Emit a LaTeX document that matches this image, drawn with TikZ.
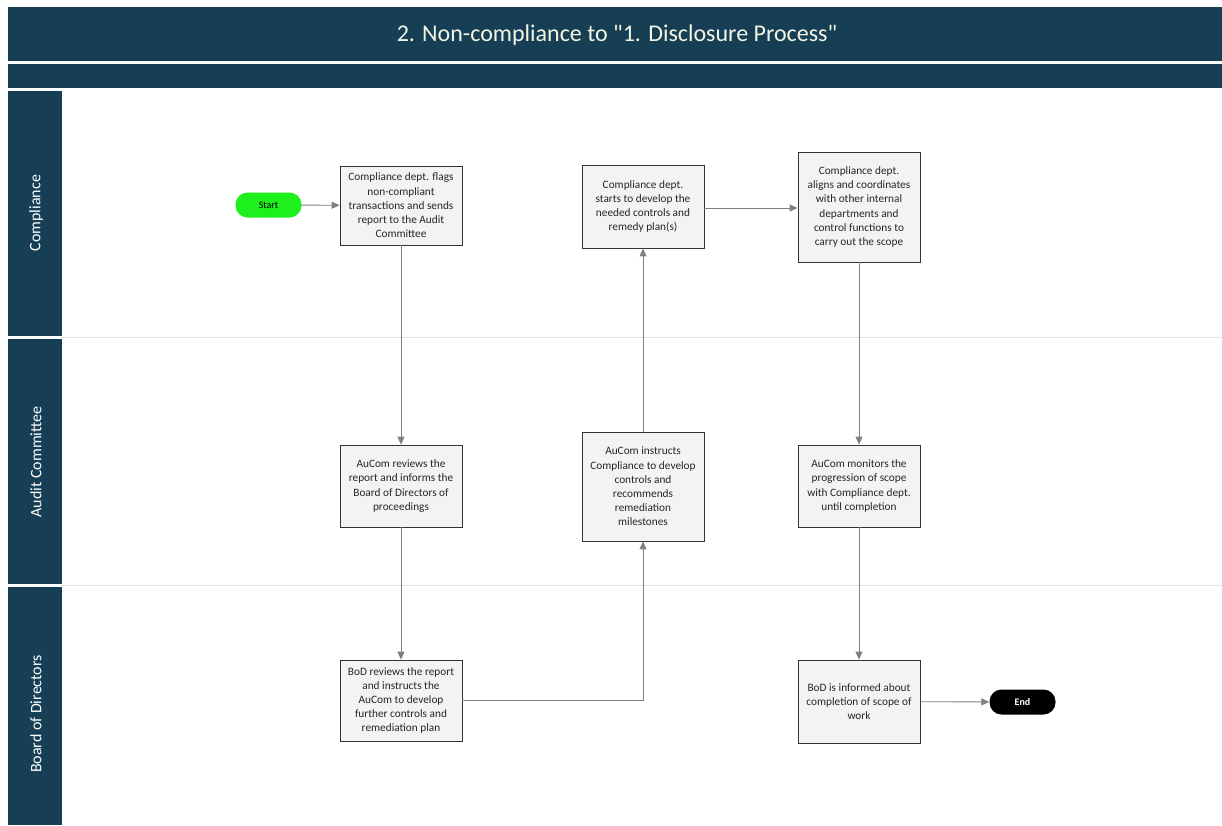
\documentclass[tikz,border=0pt]{standalone}
\usepackage{fontspec}
\setmainfont{Carlito}
\newfontfamily\titlefont{Carlito}[Ligatures=TeXOff]
\usetikzlibrary{arrows.meta}
\definecolor{navy}{RGB}{22,62,84}
\definecolor{boxfill}{RGB}{243,243,243}
\definecolor{conn}{RGB}{128,128,128}
\definecolor{lanesep}{RGB}{225,225,225}
\definecolor{startgreen}{RGB}{30,240,30}
\begin{document}
\begin{tikzpicture}[x=1pt,y=-1pt,
  proc/.style={draw=black!80, line width=0.8pt, fill=boxfill, align=center, inner sep=0pt,
     font=\fontsize{11.3}{14.2}\selectfont, text=black!85},
  term/.style={rounded corners=12pt, align=center, minimum width=66pt, minimum height=25pt, inner sep=0pt,
     font=\fontsize{10}{11}\selectfont},
  flow/.style={draw=conn, line width=0.9pt, -{Triangle[length=8pt,width=7pt]}},
  lanelabel/.style={rotate=90, text=white, font=\fontsize{16}{18}\selectfont},
]
\useasboundingbox (0,0) rectangle (1222,825);
\fill[white] (0,0) rectangle (1222,825);
% title bars
\fill[navy] (8,7) rectangle (1222,61);
\node (title) at (617,35) {\color[RGB]{245,245,230}\titlefont\fontsize{24}{27}\selectfont 2. Non-compliance to "1. Disclosure Process"};
\fill[navy] (8,64) rectangle (1222,88);
% lane headers
\fill[navy] (8,91) rectangle (62,336);
\fill[navy] (8,339) rectangle (62,584);
\fill[navy] (8,587) rectangle (62,825);
\draw[lanesep, line width=1pt] (62,337.5) -- (1222,337.5);
\draw[lanesep, line width=1pt] (62,585.5) -- (1222,585.5);
\node[lanelabel] (l1) at (36,213) {Compliance};
\node[lanelabel] (l2) at (36,462) {Audit Committee};
\node[lanelabel] (l3) at (36,714) {Board of Directors};
% nodes
\node[term, fill=startgreen, text=black] (start) at (268.5,205) {Start};
\node[proc, minimum width=122pt, minimum height=79pt] (a1) at (401,205.5)
  {Compliance dept. flags\\non-compliant\\transactions and sends\\report to the Audit\\Committee};
\node[proc, minimum width=122pt, minimum height=83pt] (b1) at (643,206.5)
  {Compliance dept.\\starts to develop the\\needed controls and\\remedy plan(s)};
\node[proc, minimum width=122pt, minimum height=110pt] (c1) at (859,207)
  {Compliance dept.\\aligns and coordinates\\with other internal\\departments and\\control functions to\\carry out the scope};
\node[proc, minimum width=122pt, minimum height=82pt] (a2) at (401,486)
  {AuCom reviews the\\report and informs the\\Board of Directors of\\proceedings};
\node[proc, minimum width=122pt, minimum height=109pt] (b2) at (643,486.5)
  {AuCom instructs\\Compliance to develop\\controls and\\recommends\\remediation\\milestones};
\node[proc, minimum width=122pt, minimum height=82pt] (c2) at (859,486)
  {AuCom monitors the\\progression of scope\\with Compliance dept.\\until completion};
\node[proc, minimum width=122pt, minimum height=81pt] (a3) at (401,700.5)
  {BoD reviews the report\\and instructs the\\AuCom to develop\\further controls and\\remediation plan};
\node[proc, minimum width=122pt, minimum height=83pt] (c3) at (859,701.5)
  {BoD is informed about\\completion of scope of\\work};
\node[term, fill=black, text=white, font=\bfseries\fontsize{10}{11}\selectfont] (end) at (1022.5,702) {End};
% connectors
\draw[flow] (start) -- (a1);
\draw[flow] (a1) -- (a2);
\draw[flow] (a2) -- (a3);
\draw[flow] (a3.east) -| (b2.south);
\draw[flow] (b2) -- (b1);
\draw[flow] (b1.east |- 0,208) -- (c1.west |- 0,208);
\draw[flow] (c1) -- (c2);
\draw[flow] (c2) -- (c3);
\draw[flow] (c3) -- (end);
\end{tikzpicture}
\end{document}
